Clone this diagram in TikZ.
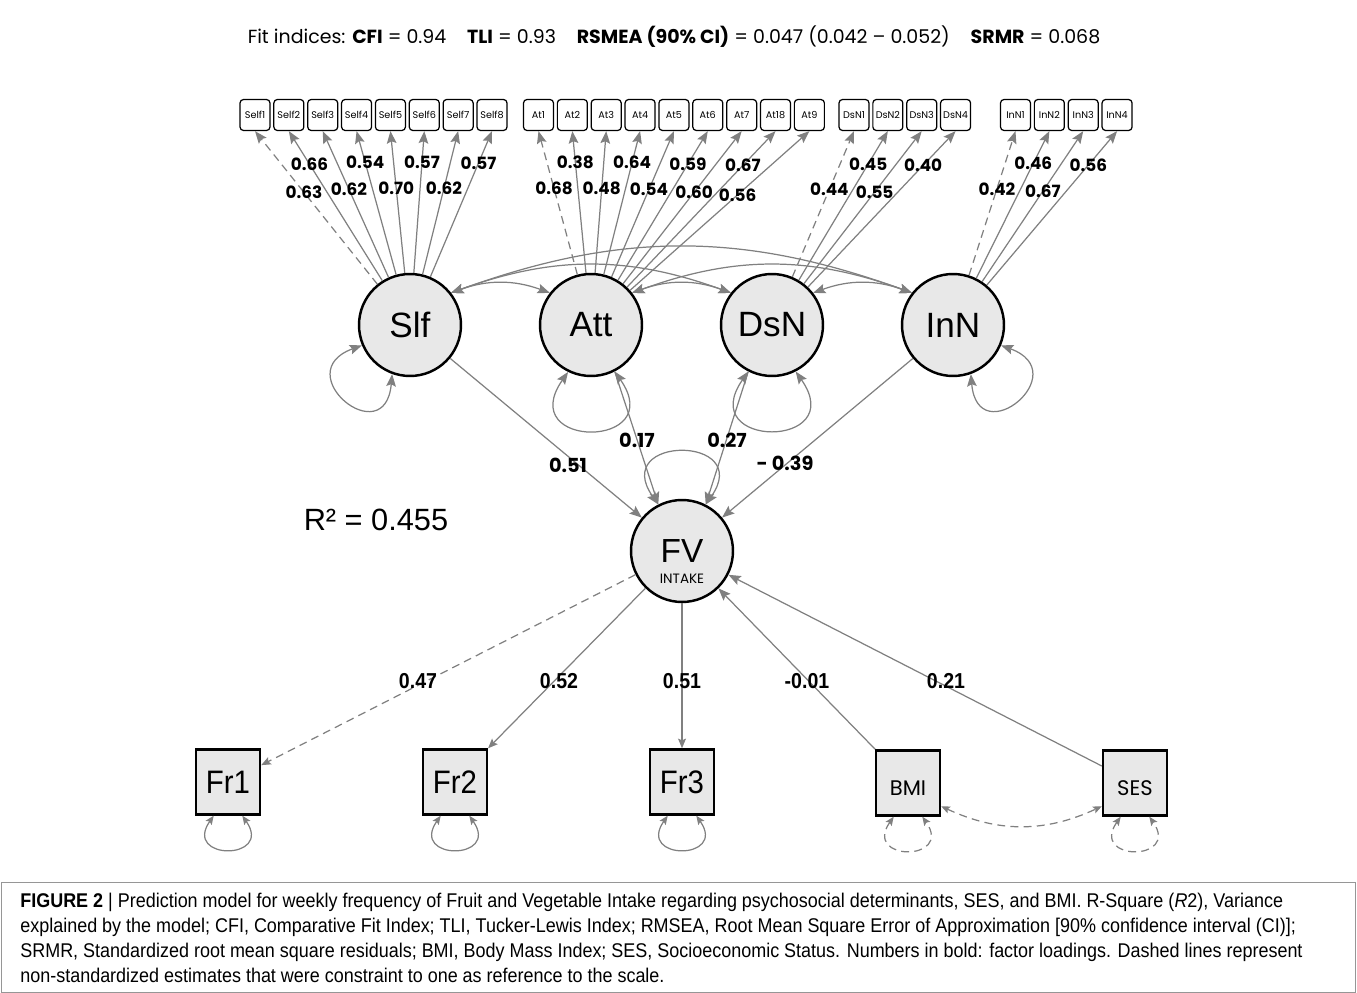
\documentclass[tikz,border=0pt]{standalone}
\usepackage{fontspec}
\setmainfont{Liberation Sans}
\newfontfamily\popfont{Poppins}
\newfontfamily\capfont[FakeStretch=0.905]{Liberation Sans}
\usetikzlibrary{arrows.meta,positioning,calc}
\definecolor{semline}{RGB}{128,128,128}
\definecolor{semfill}{RGB}{232,232,232}
\definecolor{semframe}{RGB}{150,150,150}
\tikzset{
  latent/.style={circle,draw=black,line width=1.4pt,fill=semfill,minimum size=2.04cm,
                 inner sep=0pt,font=\fontsize{20}{24}\selectfont},
  manif/.style={rectangle,draw=black,line width=1.4pt,fill=semfill,minimum width=1.28cm,
                minimum height=1.3cm,inner sep=0pt,font=\capfont\fontsize{18.5}{22}\selectfont},
  manifsm/.style={manif,font=\popfont\fontsize{12}{14}\selectfont,text height=14pt,text depth=0pt},
  ind/.style={rectangle,rounded corners=2pt,draw=black,line width=0.7pt,fill=white,
              minimum width=0.6cm,minimum height=0.62cm,inner sep=0pt,
              font=\popfont\fontsize{5.5}{6}\selectfont},
  load/.style={-{Stealth[length=7pt,width=5.5pt,inset=1.2pt]},draw=semline,line width=0.7pt},
  reg/.style={-{Stealth[length=7pt,width=5.5pt,inset=1.2pt]},draw=semline,line width=0.7pt},
  cov/.style={{Stealth[length=7pt,width=5.5pt,inset=1.2pt]}-{Stealth[length=7pt,width=5.5pt,inset=1.2pt]},
              draw=semline,line width=0.7pt},
  smallcov/.style={{Stealth[length=5pt,width=4.2pt,inset=1pt]}-{Stealth[length=5pt,width=4.2pt,inset=1pt]},
                   draw=semline,line width=0.7pt},
  small/.style={-{Stealth[length=5.5pt,width=4.5pt,inset=1pt]},draw=semline,line width=0.7pt},
  dsh/.style={dash pattern=on 4.5pt off 3pt},
  llab/.style={font=\popfont\bfseries\fontsize{9.6}{11}\selectfont,inner sep=0pt},
  plab/.style={font=\popfont\bfseries\fontsize{11}{13}\selectfont,inner sep=0pt},
  blab/.style={font=\capfont\bfseries\fontsize{12.3}{14}\selectfont,inner sep=0pt},
}

\begin{document}
\begin{tikzpicture}[x=0.02cm,y=0.02cm,node distance=1.5pt]
\useasboundingbox (0,0) rectangle (1357,-993);
% --- fit indices ---
\node[font=\popfont\fontsize{10.8}{12}\selectfont,inner sep=0pt] (title) at (674,-37)
 {Fit indices: \textbf{CFI} = 0.94\hspace{1.1em}\textbf{TLI} = 0.93\hspace{1.1em}\textbf{RSMEA (90\% CI)} = 0.047 (0.042 \textendash{} 0.052)\hspace{1.1em}\textbf{SRMR} = 0.068};
% --- indicators ---
\node[ind] (s1) at (255,-115) {Self1};
\node[ind,right=of s1] (s2) {Self2};
\node[ind,right=of s2] (s3) {Self3};
\node[ind,right=of s3] (s4) {Self4};
\node[ind,right=of s4] (s5) {Self5};
\node[ind,right=of s5] (s6) {Self6};
\node[ind,right=of s6] (s7) {Self7};
\node[ind,right=of s7] (s8) {Self8};
\node[ind] (a1) at (538.5,-115) {At1};
\node[ind,right=of a1] (a2) {At2};
\node[ind,right=of a2] (a3) {At3};
\node[ind,right=of a3] (a4) {At4};
\node[ind,right=of a4] (a5) {At5};
\node[ind,right=of a5] (a6) {At6};
\node[ind,right=of a6] (a7) {At7};
\node[ind,right=of a7] (a8) {At18};
\node[ind,right=of a8] (a9) {At9};
\node[ind] (d1) at (854,-115) {DsN1};
\node[ind,right=of d1] (d2) {DsN2};
\node[ind,right=of d2] (d3) {DsN3};
\node[ind,right=of d3] (d4) {DsN4};
\node[ind] (n1) at (1015.5,-115) {InN1};
\node[ind,right=of n1] (n2) {InN2};
\node[ind,right=of n2] (n3) {InN3};
\node[ind,right=of n3] (n4) {InN4};
% --- latent factors ---
\node[latent] (slf) at (410,-325) {Slf};
\node[latent] (att) at (591,-325) {Att};
\node[latent] (dsn) at (772,-325) {DsN};
\node[latent] (inn) at (953,-325) {InN};
\node[latent,font=\fontsize{19}{22}\selectfont] (fv) at (682,-551) {FV};
\node[font=\popfont\fontsize{7.7}{9}\selectfont,inner sep=0pt] (intake) at (682,-579) {INTAKE};
% --- observed ---
\node[manif] (fr1) at (228,-782) {Fr1};
\node[manif] (fr2) at (455,-782) {Fr2};
\node[manif] (fr3) at (682,-782) {Fr3};
\node[manifsm] (bmi) at (908,-783) {BMI};
\node[manifsm] (ses) at (1135,-783) {SES};
% loadings
\draw[load,dsh] (slf) -- node[llab,pos=.6] (ls1) {0.63} (s1.south);
\draw[load] (slf) -- node[llab,pos=.78] (ls2) {0.66} (s2.south);
\draw[load] (slf) -- node[llab,pos=.6] (ls3) {0.62} (s3.south);
\draw[load] (slf) -- node[llab,pos=.78] (ls4) {0.54} (s4.south);
\draw[load] (slf) -- node[llab,pos=.6] (ls5) {0.70} (s5.south);
\draw[load] (slf) -- node[llab,pos=.78] (ls6) {0.57} (s6.south);
\draw[load] (slf) -- node[llab,pos=.6] (ls7) {0.62} (s7.south);
\draw[load] (slf) -- node[llab,pos=.78] (ls8) {0.57} (s8.south);
\draw[load,dsh] (att) -- node[llab,pos=.6] (la1) {0.68} (a1.south);
\draw[load] (att) -- node[llab,pos=.78] (la2) {0.38} (a2.south);
\draw[load] (att) -- node[llab,pos=.6] (la3) {0.48} (a3.south);
\draw[load] (att) -- node[llab,pos=.78] (la4) {0.64} (a4.south);
\draw[load] (att) -- node[llab,pos=.6] (la5) {0.54} (a5.south);
\draw[load] (att) -- node[llab,pos=.78] (la6) {0.59} (a6.south);
\draw[load] (att) -- node[llab,pos=.6] (la7) {0.60} (a7.south);
\draw[load] (att) -- node[llab,pos=.78] (la8) {0.67} (a8.south);
\draw[load] (att) -- node[llab,pos=.6] (la9) {0.56} (a9.south);
\draw[load,dsh] (dsn) -- node[llab,pos=.6] (ld1) {0.44} (d1.south);
\draw[load] (dsn) -- node[llab,pos=.78] (ld2) {0.45} (d2.south);
\draw[load] (dsn) -- node[llab,pos=.6] (ld3) {0.55} (d3.south);
\draw[load] (dsn) -- node[llab,pos=.78] (ld4) {0.40} (d4.south);
\draw[load,dsh] (inn) -- node[llab,pos=.6] (ln1) {0.42} (n1.south);
\draw[load] (inn) -- node[llab,pos=.78] (ln2) {0.46} (n2.south);
\draw[load] (inn) -- node[llab,pos=.6] (ln3) {0.67} (n3.south);
\draw[load] (inn) -- node[llab,pos=.78] (ln4) {0.56} (n4.south);
% factor covariances
\draw[cov] (slf.38) to[bend left=20] (att.142);
\draw[cov] (slf.38) to[bend left=20] (dsn.142);
\draw[cov] (slf.38) to[bend left=20] (inn.142);
\draw[cov] (att.38) to[bend left=20] (dsn.142);
\draw[cov] (att.38) to[bend left=20] (inn.142);
\draw[cov] (dsn.38) to[bend left=20] (inn.142);
% residual variances
\draw[cov] (slf.203) to[out=200,in=265,distance=1.6cm] (slf.250);
\draw[cov] (inn.290) to[out=275,in=340,distance=1.6cm] (inn.337);
\draw[cov] (att.244) to[out=235,in=305,distance=1.9cm] (att.297);
\draw[cov] (dsn.243) to[out=235,in=305,distance=1.9cm] (dsn.297);
\draw[cov] (fv.117) to[out=125,in=55,distance=1.7cm] (fv.63);
% regressions
\draw[reg] (slf) -- (fv);
\draw[reg] (att.297) -- (fv.117);
\draw[reg] (dsn.243) -- (fv.63);
\draw[reg] (inn) -- (fv);
\draw[small,dsh] (fv) -- (fr1);
\draw[small] (fv) -- (fr2);
\draw[small] (fv) -- (fr3);
\draw[reg] (bmi) -- (fv);
\draw[reg] (ses) -- (fv);
\node[plab] (p51) at (568,-465) {0.51};
\node[plab] (p17) at (637,-440) {0.17};
\node[plab] (p27) at (727,-440) {0.27};
\node[plab] (p39) at (785,-463) {- 0.39};
\node[blab] (b47) at (418,-681) {0.47};
\node[blab] (b52) at (559,-681) {0.52};
\node[blab] (b51) at (682,-681) {0.51};
\node[blab] (b01) at (807,-681) {-0.01};
\node[blab] (b21) at (946,-681) {0.21};
% observed variances
\draw[smallcov] (fr1.247) to[out=235,in=305,distance=1.1cm] (fr1.293);
\draw[smallcov] (fr2.247) to[out=235,in=305,distance=1.1cm] (fr2.293);
\draw[smallcov] (fr3.247) to[out=235,in=305,distance=1.1cm] (fr3.293);
\draw[smallcov,dsh] (bmi.247) to[out=235,in=305,distance=1.1cm] (bmi.293);
\draw[smallcov,dsh] (ses.247) to[out=235,in=305,distance=1.1cm] (ses.293);
\draw[smallcov,dsh] (bmi.-35) to[bend right=25] (ses.215);
\node[font=\fontsize{17.5}{20}\selectfont,inner sep=0pt] (rsq) at (376,-520) {R² = 0.455};
% caption
\draw[semframe,line width=0.5pt] (1,-882) rectangle (1355,-992);
\node[font=\capfont\fontsize{11.3}{14.2}\selectfont,align=left,inner sep=0pt,anchor=north west] (capt) at (20,-893)
 {\textbf{FIGURE 2} | Prediction model for weekly frequency of Fruit and Vegetable Intake regarding psychosocial determinants, SES, and BMI. R-Square (\textit{R}2), Variance\\
  explained by the model; CFI, Comparative Fit Index; TLI, Tucker-Lewis Index; RMSEA, Root Mean Square Error of Approximation [90\% confidence interval (CI)];\\
  SRMR, Standardized root mean square residuals; BMI, Body Mass Index; SES, Socioeconomic Status. Numbers in bold: factor loadings. Dashed lines represent\\
  non-standardized estimates that were constraint to one as reference to the scale.};
\end{tikzpicture}
\end{document}
